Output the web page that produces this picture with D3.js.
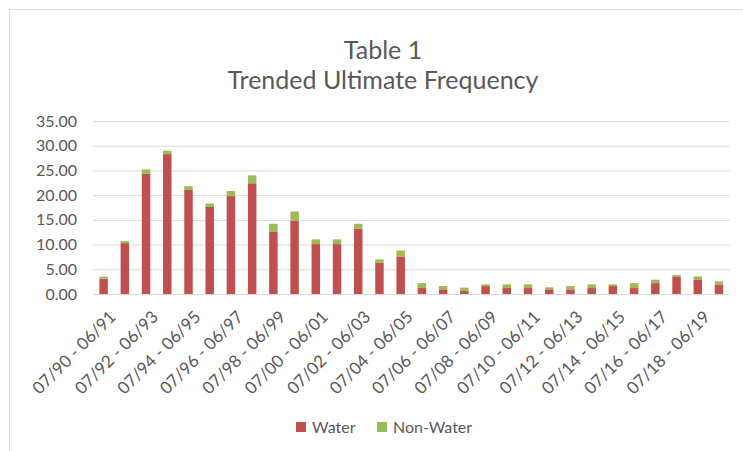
<!DOCTYPE html>
<html lang="en">
  <head>
    <meta charset="UTF-8" />
    <title>Table 1 - Trended Ultimate Frequency</title>
    <script src="https://d3js.org/d3.v7.min.js"></script>
    <style>
      body {
        margin: 0;
        background: #ffffff;
        font-family: Lato, "Open Sans", sans-serif;
      }
      .axis text {
        fill: #595959;
        font-size: 16px;
        font-family: Lato, sans-serif;
      }
      .x-axis text {
        font-size: 17px;
      }
      .grid line {
        stroke: #d9d9d9;
        stroke-width: 1;
      }
      .title {
        fill: #595959;
        font-size: 25px;
        text-anchor: middle;
      }
      .legend-text {
        fill: #595959;
        font-size: 16px;
      }
    </style>
  </head>
  <body>
    <div id="chart"></div>
    <script>
    // chart data
    const categories = [
      "07/90 - 06/91", "07/91 - 06/92", "07/92 - 06/93", "07/93 - 06/94",
      "07/94 - 06/95", "07/95 - 06/96", "07/96 - 06/97", "07/97 - 06/98",
      "07/98 - 06/99", "07/99 - 06/00", "07/00 - 06/01", "07/01 - 06/02",
      "07/02 - 06/03", "07/03 - 06/04", "07/04 - 06/05", "07/05 - 06/06",
      "07/06 - 06/07", "07/07 - 06/08", "07/08 - 06/09", "07/09 - 06/10",
      "07/10 - 06/11", "07/11 - 06/12", "07/12 - 06/13", "07/13 - 06/14",
      "07/14 - 06/15", "07/15 - 06/16", "07/16 - 06/17", "07/17 - 06/18",
      "07/18 - 06/19", "07/19 - 06/20"
    ];
    const water = [
      3.1, 10.3, 24.3, 28.3, 21.05, 17.6, 19.8, 22.4, 12.55, 14.85,
      10.1, 10.1, 13.2, 6.3, 7.6, 1.2, 0.95, 0.6, 1.6, 1.2,
      1.2, 0.95, 0.95, 1.2, 1.6, 1.2, 2.2, 3.45, 2.85, 1.9
    ];
    const nonWater = [
      0.4, 0.4, 0.9, 0.7, 0.75, 0.7, 1.05, 1.6, 1.65, 1.85,
      0.95, 0.95, 1.0, 0.7, 1.2, 1.0, 0.65, 0.7, 0.35, 0.75,
      0.75, 0.4, 0.65, 0.75, 0.35, 1.0, 0.7, 0.4, 0.7, 0.65
    ];
    const seriesNames = ["Water", "Non-Water"];
    const seriesColors = ["#c0504d", "#9bbb59"];
    const yTicks = [0, 5, 10, 15, 20, 25, 30, 35];

    const W = 743, H = 451;
    const plot = { left: 93, right: 729.6, top: 121, bottom: 294 };

    const svg = d3.select("#chart")
      .append("svg")
      .attr("width", W)
      .attr("height", H);

    // chart frame
    svg.append("rect")
      .attr("x", 9.5)
      .attr("y", 9.5)
      .attr("width", W)
      .attr("height", H)
      .attr("fill", "none")
      .attr("stroke", "#d9d9d9");

    // title
    svg.append("text")
      .attr("class", "title")
      .attr("x", 383)
      .attr("y", 59)
      .text("Table 1");
    svg.append("text")
      .attr("class", "title")
      .attr("x", 383)
      .attr("y", 89)
      .text("Trended Ultimate Frequency");

    const x = d3.scaleBand()
      .domain(categories)
      .range([plot.left, plot.right])
      .paddingInner(0.6)
      .paddingOuter(0.3);

    const y = d3.scaleLinear()
      .domain([0, 35])
      .range([plot.bottom, plot.top]);

    // gridlines + y labels
    const yAxis = svg.append("g")
      .attr("class", "axis grid")
      .attr("transform", `translate(${plot.left}, 0)`)
      .call(d3.axisLeft(y)
        .tickValues(yTicks)
        .tickSize(-(plot.right - plot.left))
        .tickPadding(16)
        .tickFormat(d3.format(".2f")));
    yAxis.select(".domain").remove();

    // stacked data
    const rows = categories.map((c, i) => ({ cat: c, Water: water[i], "Non-Water": nonWater[i] }));
    const stacked = d3.stack().keys(seriesNames)(rows);

    svg.append("g")
      .selectAll("g")
      .data(stacked)
      .join("g")
      .attr("fill", (d, i) => seriesColors[i])
      .selectAll("rect")
      .data(d => d)
      .join("rect")
      .attr("x", d => x(d.data.cat))
      .attr("width", x.bandwidth())
      .attr("y", d => y(d[1]))
      .attr("height", d => y(d[0]) - y(d[1]));

    // x labels, every other category, rotated
    const xAxis = svg.append("g")
      .attr("class", "axis x-axis")
      .attr("transform", `translate(0, ${plot.bottom})`)
      .call(d3.axisBottom(x)
        .tickValues(categories.filter((c, i) => i % 2 === 0))
        .tickSize(0));
    xAxis.select(".domain").remove();
    xAxis.selectAll("text")
      .attr("text-anchor", "end")
      .attr("dy", null)
      .attr("y", 0)
      .attr("transform", d => `translate(${x.bandwidth() / 2 + 9}, 24) rotate(-45)`);

    // legend
    const legend = svg.append("g")
      .selectAll("g")
      .data(seriesNames)
      .join("g")
      .attr("transform", (d, i) => `translate(${[296, 377][i]}, 422)`);
    legend.append("rect")
      .attr("width", 10)
      .attr("height", 10)
      .attr("fill", (d, i) => seriesColors[i]);
    legend.append("text")
      .attr("class", "legend-text")
      .attr("x", 16)
      .attr("y", 11)
      .text(d => d);
    </script>
  </body>
</html>
